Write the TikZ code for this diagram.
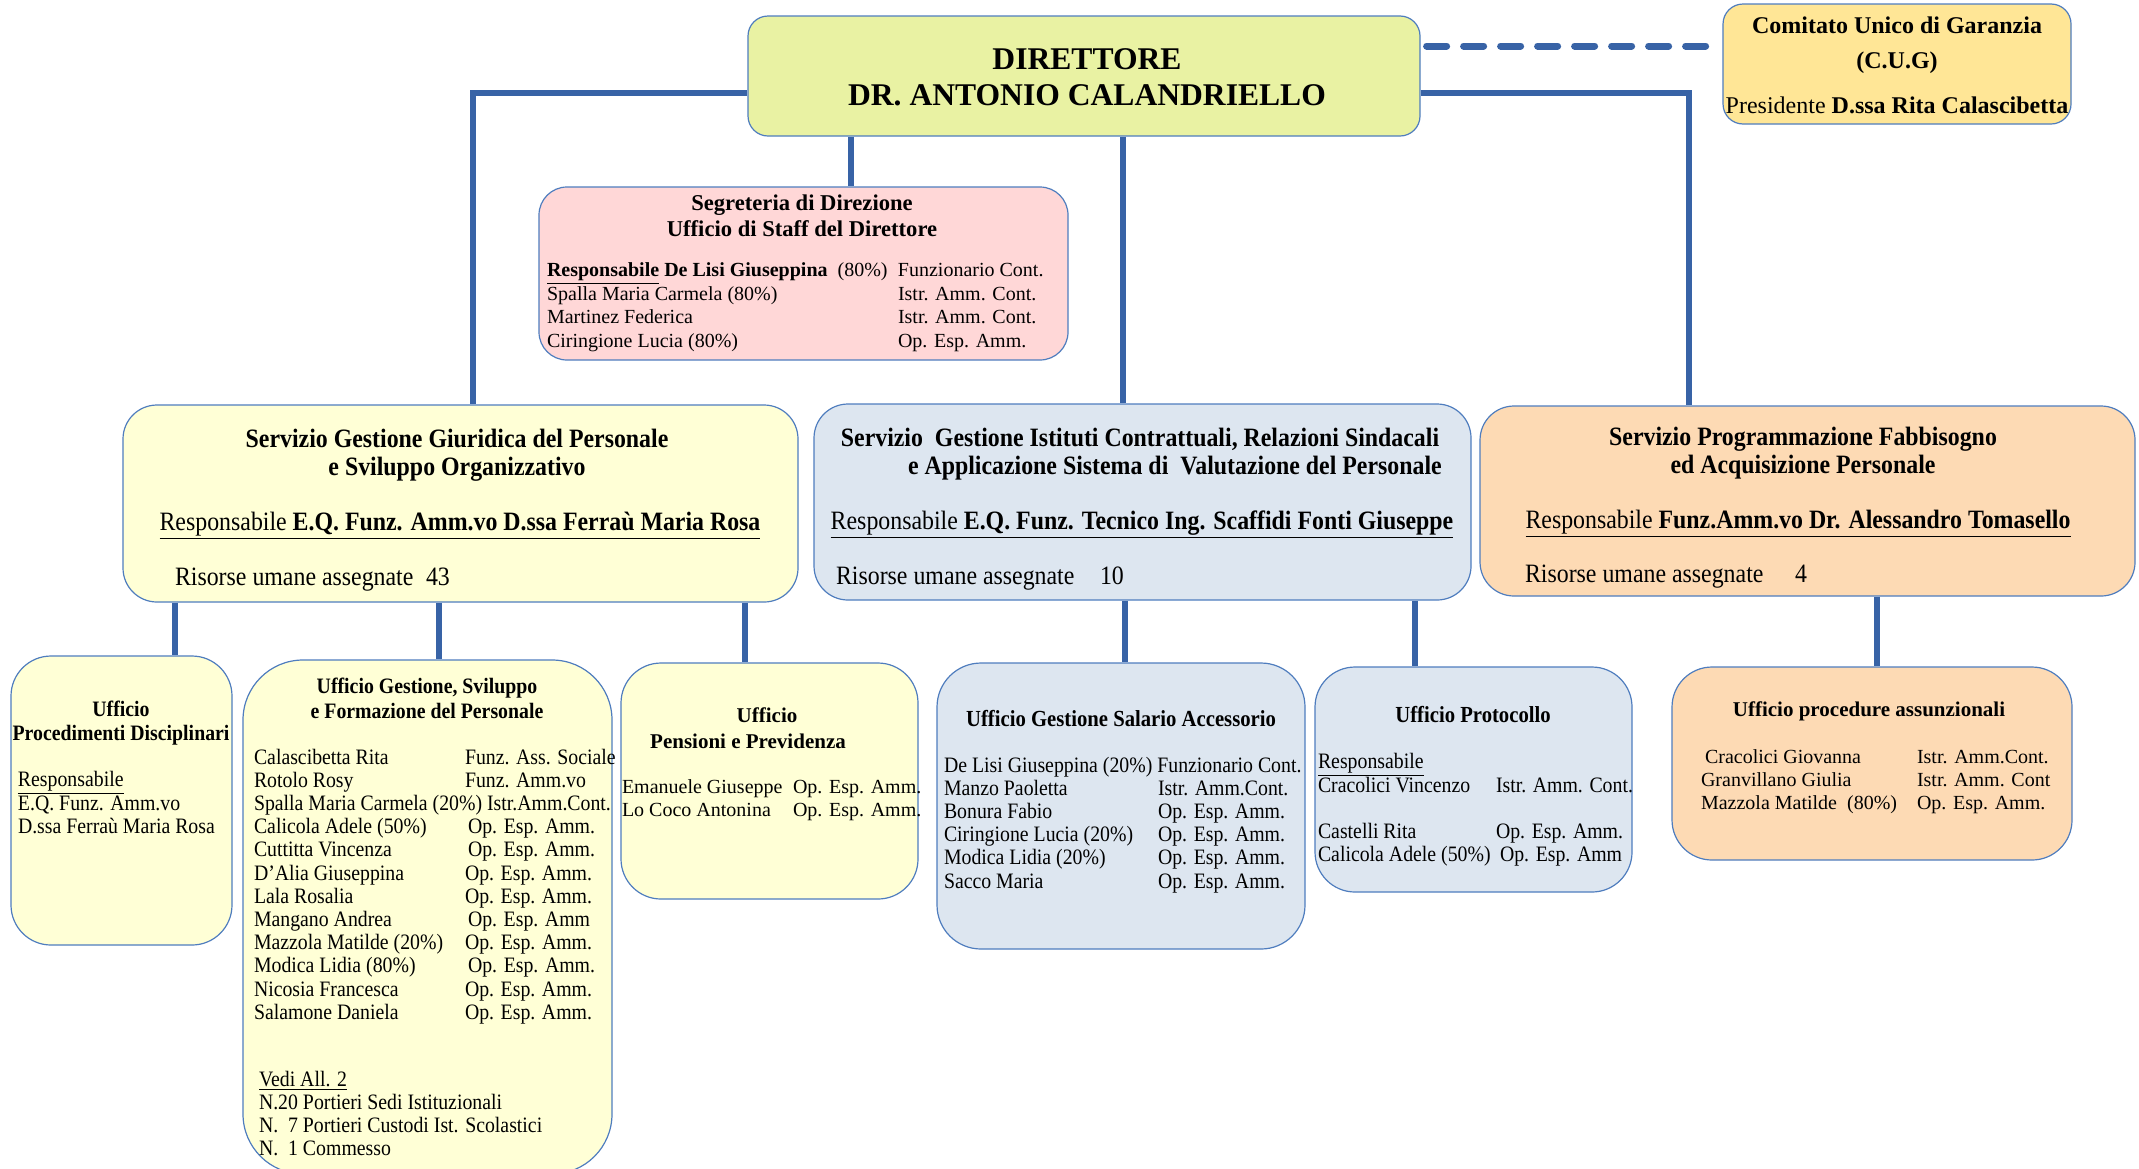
\documentclass[tikz,border=0pt]{standalone}
\usepackage{fontspec}
\setmainfont{Liberation Serif}
\newfontfamily\cond[FakeStretch=0.9]{Liberation Serif}
\usetikzlibrary{fit}
\definecolor{connc}{RGB}{56,99,166}
\definecolor{boxline}{RGB}{79,125,190}
\definecolor{cdir}{RGB}{233,242,163}
\definecolor{ccug}{RGB}{255,230,150}
\definecolor{cseg}{RGB}{255,215,215}
\definecolor{cyel}{RGB}{255,255,214}
\definecolor{cblu}{RGB}{221,230,240}
\definecolor{cpea}{RGB}{253,218,180}
\newlength\cw
\newcommand\tb[2]{\begin{tabular}[t]{@{}#1@{}}#2\end{tabular}}
\newcommand\rr[2]{\makebox[\cw][l]{#1}#2}
\pgfdeclarelayer{bg}
\pgfsetlayers{bg,main}
\tikzset{
  box/.style={draw=boxline, line width=0.6pt, rounded corners=#1, inner sep=0pt},
  box/.default=15pt,
  conn/.style={draw=connc, line width=3pt},
  dashc/.style={draw=connc, line width=3.5pt, line cap=round, dash pattern=on 10pt off 8.5pt},
  txt/.style={inner sep=0pt, outer sep=0pt},
}
\begin{document}
\begin{tikzpicture}[x=0.5pt, y=-0.5pt]
\useasboundingbox (0,0) rectangle (2139,1168);
\clip (0,0) rectangle (2139,1168);
% boxes
\node[box=10pt, fill=cdir, fit={(748,16) (1420,136)}] (dir) {};
\node[box=10pt, fill=ccug, fit={(1723,4) (2071,124)}] (cug) {};
\node[box=14pt, fill=cseg, fit={(539,187) (1068,360)}] (seg) {};
\node[box=17pt, fill=cyel, fit={(123,405) (798,602)}] (s1) {};
\node[box=17pt, fill=cblu, fit={(814,404) (1471,600)}] (s2) {};
\node[box=17pt, fill=cpea, fit={(1480,406) (2135,596)}] (s3) {};
\node[box=20pt, fill=cyel, fit={(11,656) (232,945)}] (pd) {};
\node[box=30pt, fill=cyel, fit={(243,660) (612,1174)}] (gs) {};
\node[box=20pt, fill=cyel, fit={(621,663) (918,899)}] (pp) {};
\node[box=22pt, fill=cblu, fit={(937,663) (1305,949)}] (sal) {};
\node[box=20pt, fill=cblu, fit={(1315,667) (1632,892)}] (pro) {};
\node[box=20pt, fill=cpea, fit={(1672,667) (2072,860)}] (asu) {};
% connectors
\begin{pgfonlayer}{bg}
\draw[conn] ([yshift=-8.5pt]dir.west) -| ([xshift=6.25pt]s1.north);
\draw[conn] ([yshift=-8.5pt]dir.east) -| ([xshift=-59.25pt]s3.north);
\draw[conn] ([xshift=19.5pt]dir.south) -- ([xshift=-9.75pt]s2.north);
\draw[conn] ([xshift=-116.5pt]dir.south) -- ([xshift=23.75pt]seg.north);
\draw[conn] ([xshift=-142.75pt]s1.south) -- ([xshift=26.75pt]pd.north);
\draw[conn] ([xshift=-10.75pt]s1.south) -- ([xshift=5.75pt]gs.north);
\draw[conn] ([xshift=142.25pt]s1.south) -- ([xshift=-12.25pt]pp.north);
\draw[conn] ([xshift=-8.75pt]s2.south) -- ([xshift=2pt]sal.north);
\draw[conn] ([xshift=136.25pt]s2.south) -- ([xshift=-29.25pt]pro.north);
\draw[conn] ([xshift=34.75pt]s3.south) -- ([xshift=2.5pt]asu.north);
\draw[dashc] ([xshift=3pt,yshift=15pt]dir.east) -- ([xshift=-2pt,yshift=9pt]cug.west);
\end{pgfonlayer}
% director
\node[txt, anchor=base, font=\bfseries\fontsize{15.8}{18}\selectfont] (dirt) at (1087,69)
  {\tb{c}{DIRETTORE\\DR. ANTONIO CALANDRIELLO}};
% CUG
\node[txt, anchor=base, font=\fontsize{12}{17.5}\selectfont] (cugt) at (1897,33)
  {\tb{c}{\textbf{Comitato Unico di Garanzia}\\\textbf{(C.U.G)}\\[5pt]Presidente \textbf{D.ssa Rita Calascibetta}}};
% segreteria
\node[txt, anchor=base, font=\bfseries\fontsize{11.3}{13}\selectfont] (segt) at (802,210)
  {\tb{c}{Segreteria di Direzione\\Ufficio di Staff del Direttore}};
\node[txt, anchor=base west, font=\fontsize{10}{11.65}\selectfont\setlength\cw{175.5pt}] (segb) at (547,276)
  {\tb{l}{\rr{\underline{\textbf{Responsabile}} \textbf{De Lisi Giuseppina}\ \ (80\%)}{Funzionario Cont.}\\
  \rr{Spalla Maria Carmela (80\%)}{Istr. Amm. Cont.}\\
  \rr{Martinez Federica}{Istr. Amm. Cont.}\\
  \rr{Ciringione Lucia (80\%)}{Op. Esp. Amm.}}};
% service 1
\node[txt, anchor=base, font=\cond\bfseries\fontsize{13.25}{14}\selectfont] (s1t) at (457,447)
  {\tb{c}{Servizio Gestione Giuridica del Personale\\e Sviluppo Organizzativo}};
\node[txt, anchor=base, font=\cond\fontsize{13.25}{14}\selectfont] (s1r) at (460,530)
  {\underline{Responsabile \textbf{E.Q. Funz. Amm.vo D.ssa Ferraù Maria Rosa}}};
\node[txt, anchor=base west, font=\cond\fontsize{13.25}{14}\selectfont] (s1n) at (175,585)
  {\makebox[125.5pt][l]{Risorse umane assegnate}43};
% service 2
\node[txt, anchor=base, font=\cond\bfseries\fontsize{13.25}{14}\selectfont] (s2t1) at (1140,446)
  {Servizio\ \ Gestione Istituti Contrattuali, Relazioni Sindacali};
\node[txt, anchor=base west, font=\cond\bfseries\fontsize{13.25}{14}\selectfont] (s2t2) at (908,474)
  {e Applicazione Sistema di\ \ Valutazione del Personale};
\node[txt, anchor=base, font=\cond\fontsize{13.25}{14}\selectfont] (s2r) at (1142,529)
  {\underline{Responsabile \textbf{E.Q. Funz. Tecnico Ing. Scaffidi Fonti Giuseppe}}};
\node[txt, anchor=base west, font=\cond\fontsize{13.25}{14}\selectfont] (s2n) at (836,584)
  {\makebox[132pt][l]{Risorse umane assegnate}10};
% service 3
\node[txt, anchor=base, font=\cond\bfseries\fontsize{13.25}{14}\selectfont] (s3t) at (1803,445)
  {\tb{c}{Servizio Programmazione Fabbisogno\\ed Acquisizione Personale}};
\node[txt, anchor=base, font=\cond\fontsize{13.25}{14}\selectfont] (s3r) at (1798,528)
  {\underline{Responsabile \textbf{Funz.Amm.vo Dr. Alessandro Tomasello}}};
\node[txt, anchor=base west, font=\cond\fontsize{13.25}{14}\selectfont] (s3n) at (1525,582)
  {\makebox[135pt][l]{Risorse umane assegnate}4};
% procedimenti disciplinari
\node[txt, anchor=base, font=\cond\bfseries\fontsize{11}{12}\selectfont] (pdt) at (121,716)
  {\tb{c}{Ufficio\\Procedimenti Disciplinari}};
\node[txt, anchor=base west, font=\cond\fontsize{11}{11.5}\selectfont] (pdb) at (18,786)
  {\tb{l}{\underline{Responsabile}\\E.Q. Funz. Amm.vo\\D.ssa Ferraù Maria Rosa}};
% gestione sviluppo
\node[txt, anchor=base, font=\cond\bfseries\fontsize{11}{12.5}\selectfont] (gst) at (427,693)
  {\tb{c}{Ufficio Gestione, Sviluppo\\e Formazione del Personale}};
\node[txt, anchor=base west, font=\cond\fontsize{11}{11.6}\selectfont\setlength\cw{105.5pt}] (gsb) at (254,764)
  {\tb{l}{\rr{Calascibetta Rita}{Funz. Ass. Sociale}\\
  \rr{Rotolo Rosy}{Funz. Amm.vo}\\
  Spalla Maria Carmela (20\%) Istr.Amm.Cont.\\
  \rr{Calicola Adele (50\%)}{\hspace{1.5pt}Op. Esp. Amm.}\\
  \rr{Cuttitta Vincenza}{\hspace{1.5pt}Op. Esp. Amm.}\\
  \rr{D’Alia Giuseppina}{Op. Esp. Amm.}\\
  \rr{Lala Rosalia}{Op. Esp. Amm.}\\
  \rr{Mangano Andrea}{\hspace{1.5pt}Op. Esp. Amm}\\
  \rr{Mazzola Matilde (20\%)}{Op. Esp. Amm.}\\
  \rr{Modica Lidia (80\%)}{\hspace{1.5pt}Op. Esp. Amm.}\\
  \rr{Nicosia Francesca}{Op. Esp. Amm.}\\
  \rr{Salamone Daniela}{Op. Esp. Amm.}}};
\node[txt, anchor=base west, font=\cond\fontsize{11}{11.6}\selectfont] (gsv) at (259,1086)
  {\tb{l}{\underline{Vedi All. 2}\\N.20 Portieri Sedi Istituzionali\\N.\ \ 7 Portieri Custodi Ist. Scolastici\\N.\ \ 1 Commesso}};
% pensioni
\node[txt, anchor=base, font=\bfseries\fontsize{10.5}{12}\selectfont] (ppt1) at (767,722) {Ufficio};
\node[txt, anchor=base, font=\bfseries\fontsize{10.5}{12}\selectfont] (ppt2) at (748,748) {Pensioni e Previdenza};
\node[txt, anchor=base west, font=\fontsize{10}{11.5}\selectfont\setlength\cw{85.5pt}] (ppb) at (622,793)
  {\tb{l}{\rr{Emanuele Giuseppe}{Op. Esp. Amm.}\\\rr{Lo Coco Antonina}{Op. Esp. Amm.}}};
% salario
\node[txt, anchor=base, font=\cond\bfseries\fontsize{11.5}{12}\selectfont] (salt) at (1121,726)
  {Ufficio Gestione Salario Accessorio};
\node[txt, anchor=base west, font=\cond\fontsize{11}{11.6}\selectfont\setlength\cw{107pt}] (salb) at (944,772)
  {\tb{l}{De Lisi Giuseppina (20\%) Funzionario Cont.\\
  \rr{Manzo Paoletta}{Istr. Amm.Cont.}\\
  \rr{Bonura Fabio}{Op. Esp. Amm.}\\
  \rr{Ciringione Lucia (20\%)}{Op. Esp. Amm.}\\
  \rr{Modica Lidia (20\%)}{Op. Esp. Amm.}\\
  \rr{Sacco Maria}{Op. Esp. Amm.}}};
% protocollo
\node[txt, anchor=base, font=\cond\bfseries\fontsize{11.5}{12}\selectfont] (prot) at (1473,722)
  {Ufficio Protocollo};
\node[txt, anchor=base west, font=\cond\fontsize{11}{11.5}\selectfont\setlength\cw{89pt}] (prob) at (1318,768)
  {\tb{l}{\underline{Responsabile}\\
  \rr{Cracolici Vincenzo}{Istr. Amm. Cont.}\\
  \mbox{}\\
  \rr{Castelli Rita}{Op. Esp. Amm.}\\
  \rr{Calicola Adele (50\%)}{\hspace{2pt}Op. Esp. Amm}}};
% procedure assunzionali
\node[txt, anchor=base, font=\bfseries\fontsize{10.5}{12}\selectfont] (asut) at (1869,716)
  {Ufficio procedure assunzionali};
\node[txt, anchor=base west, font=\fontsize{10}{11.5}\selectfont\setlength\cw{108pt}] (asub) at (1701,763)
  {\tb{l}{\rr{\hspace{2pt}Cracolici Giovanna}{Istr. Amm.Cont.}\\
  \rr{Granvillano Giulia}{Istr. Amm. Cont}\\
  \rr{Mazzola Matilde\ \ (80\%)}{Op. Esp. Amm.}}};
\end{tikzpicture}
\end{document}
